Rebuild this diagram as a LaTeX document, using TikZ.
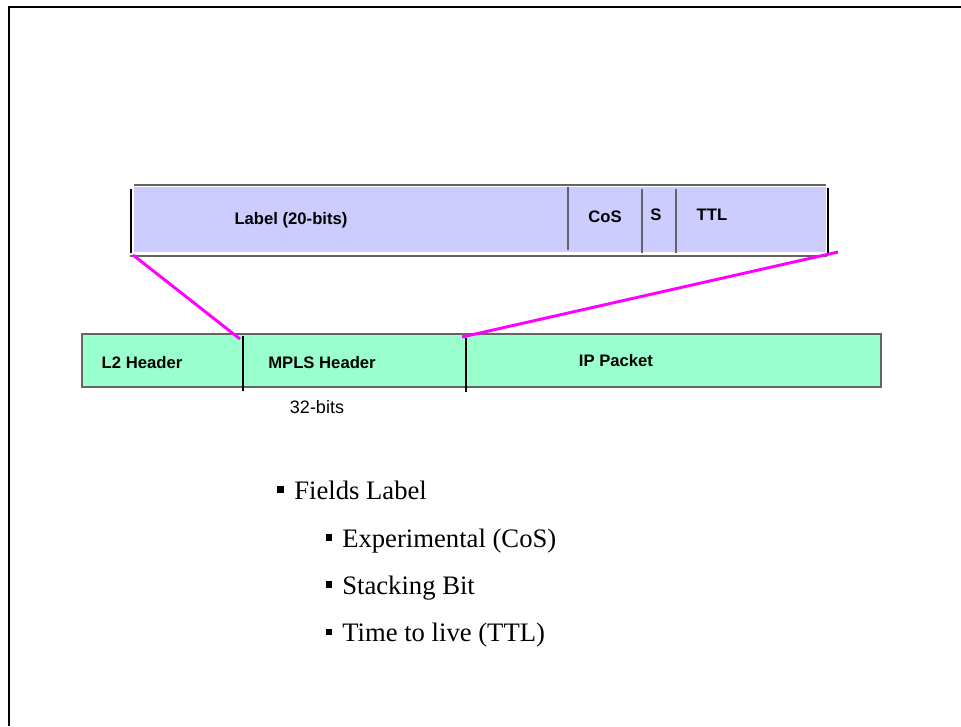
\documentclass[tikz,border=0pt]{standalone}
\usepackage{fontspec}
\setmainfont{Liberation Serif}
\setsansfont{Liberation Sans}
\usetikzlibrary{positioning}
\definecolor{hdrfill}{RGB}{204,204,255}
\definecolor{pktfill}{RGB}{153,255,204}
\definecolor{zoommag}{RGB}{255,0,255}
\definecolor{edgegray}{RGB}{100,100,100}
\tikzset{
  frame/.style   = {line width=1.5pt},
  hdredge/.style = {edgegray, line width=1.5pt},
  hdrside/.style = {black, line width=0.8pt},
  hdrsep/.style  = {edgegray, line width=1.2pt},
  pktbox/.style  = {draw=edgegray, fill=pktfill, line width=1.1pt},
  pktsep/.style  = {black, line width=0.8pt},
  zoomln/.style  = {zoommag, line width=2.2pt},
  fldlab/.style  = {font=\fontsize{12.5}{15}\selectfont\sffamily\bfseries, anchor=base},
  bitlab/.style  = {font=\fontsize{13.5}{16}\selectfont\sffamily, anchor=base},
  % list text sits on its base line, the bullet is a small black square
  itemtxt/.style = {font=\fontsize{20}{24}\selectfont, anchor=base west},
  sqbullet/.style = {fill, minimum size=5pt, inner sep=0pt},
}
\begin{document}
\begin{tikzpicture}[x=0.75pt, y=-0.75pt, every node/.style={inner sep=0pt}]
\useasboundingbox (0,0) rectangle (961,726);
\draw[frame] (9,726) -- (9,7) -- (961,7);

% the MPLS header, opened up
\fill[hdrfill] (134,187) rectangle (826,252);
\draw[hdredge] (134,185) -- (826,185);
\draw[hdredge] (130,256) -- (827,256);
\draw[hdrside] (131,189) -- (131,253);
\draw[hdrside] (828,188) -- (828,255);
\draw[hdrsep] (568,187) -- (568,250);
\foreach \x in {642,676}
  \draw[hdrsep] (\x,189) -- (\x,253);
\node[fldlab] (lbl) at (291,224) {Label (20-bits)};
\node[fldlab] (cos) at (605,222) {CoS};
\node[fldlab] (sbit) at (656,220) {S};
\node[fldlab] (ttl) at (712,220) {TTL};
\coordinate (hdrl) at (133,255);
\coordinate (hdrr) at (838,252);

% the packet
\draw[pktbox] (82,334) rectangle (881,387);
\draw[pktsep] (243,336) -- (243,391);
\draw[pktsep] (466,338) -- (466,392);
\node[fldlab] (l2) at (142,368) {L2 Header};
\node[fldlab] (mpls) at (322,368) {MPLS Header};
\node[fldlab] (ip) at (616,366) {IP Packet};
\node[bitlab] (bits) at (317,413) {32-bits};
\coordinate (mplsl) at (240,339);
\coordinate (mplsr) at (462,337);
\draw[zoomln] (hdrl) -- (mplsl);
\draw[zoomln] (hdrr) -- (mplsr);

% fields list
\node[sqbullet] (b0) at (280.5,489.5) {};
\node[itemtxt] (f0) at (294,499) {Fields Label};
\foreach \y/\t [count=\i] in {547/{Experimental (CoS)}, 594/{Stacking Bit}, 641.5/{Time to live (TTL)}} {
  \node[sqbullet] (b\i) at (329,\y-9.5) {};
  \node[itemtxt] (f\i) at (342,\y) {\t};
}
\end{tikzpicture}
\end{document}
